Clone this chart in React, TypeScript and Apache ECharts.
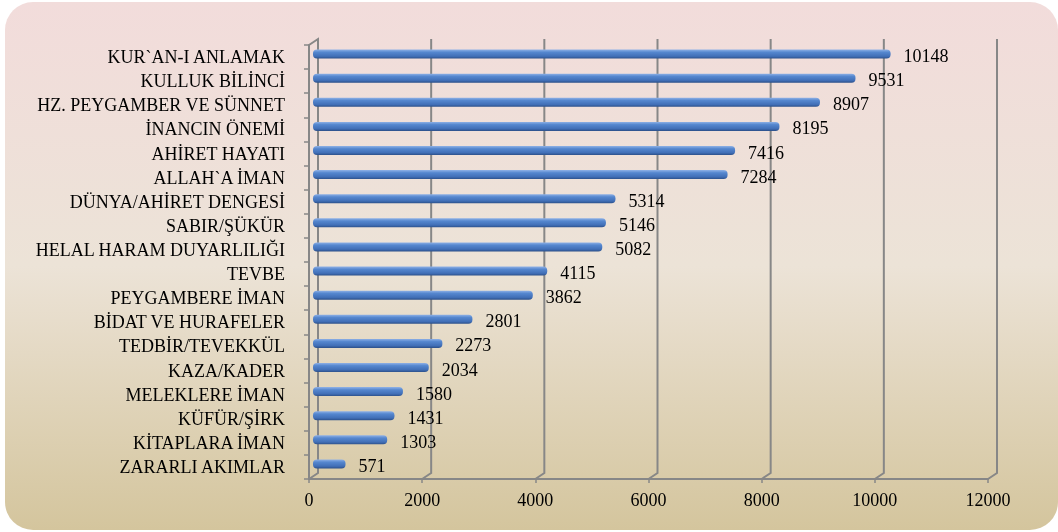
import React, { useEffect, useRef } from "react";
import * as echarts from "echarts";

const CATEGORIES = [
  "KUR`AN-I ANLAMAK",
  "KULLUK BİLİNCİ",
  "HZ. PEYGAMBER VE SÜNNET",
  "İNANCIN ÖNEMİ",
  "AHİRET HAYATI",
  "ALLAH`A İMAN",
  "DÜNYA/AHİRET DENGESİ",
  "SABIR/ŞÜKÜR",
  "HELAL HARAM DUYARLILIĞI",
  "TEVBE",
  "PEYGAMBERE İMAN",
  "BİDAT VE HURAFELER",
  "TEDBİR/TEVEKKÜL",
  "KAZA/KADER",
  "MELEKLERE İMAN",
  "KÜFÜR/ŞİRK",
  "KİTAPLARA İMAN",
  "ZARARLI AKIMLAR",
];

const VALUES = [
  10148, 9531, 8907, 8195, 7416, 7284, 5314, 5146, 5082, 4115, 3862, 2801,
  2273, 2034, 1580, 1431, 1303, 571,
];

const X_MIN = 0;
const X_MAX = 12000;
const X_INTERVAL = 2000;
const X_TICKS = [0, 2000, 4000, 6000, 8000, 10000, 12000];

const FONT = "'Liberation Serif', 'Times New Roman', serif";
const GRID_COLOR = "#878787";
const DX = 9;
const DY = 6;

export default function App() {
  const ref = useRef<HTMLDivElement>(null);

  useEffect(() => {
    if (!ref.current) return;
    const chart = echarts.init(ref.current, undefined, { renderer: "svg" });

    const bg = new echarts.graphic.LinearGradient(0, 0, 0, 1, [
      { offset: 0, color: "#f2dcdb" },
      { offset: 0.5, color: "#ece3d7" },
      { offset: 1, color: "#d4c59d" },
    ]);

    const barColor = new echarts.graphic.LinearGradient(0, 0, 0, 1, [
      { offset: 0, color: "#8fb1e6" },
      { offset: 0.3, color: "#5587cf" },
      { offset: 0.75, color: "#416fb7" },
      { offset: 1, color: "#2c508a" },
    ]);

    const option: any = {
      animation: false,
      graphic: [
        {
          type: "rect",
          z: -10,
          silent: true,
          shape: { x: 5, y: 2, width: 1053, height: 528, r: 28 },
          style: { fill: bg },
        },
      ],
      grid: [
        { left: 309, right: 70, top: 45, bottom: 53, containLabel: false },
        { left: 313, right: 62, top: 42, bottom: 56, containLabel: false },
      ],
      xAxis: [
        {
          type: "value",
          gridIndex: 0,
          min: X_MIN,
          max: X_MAX,
          interval: X_INTERVAL,
          axisLine: { show: true, lineStyle: { color: GRID_COLOR, width: 2 } },
          axisTick: { show: true, length: 4, lineStyle: { color: GRID_COLOR, width: 1.5 } },
          splitLine: { show: false },
          axisLabel: {
            fontFamily: FONT,
            fontSize: 18,
            color: "#000",
            margin: 12,
            formatter: (v: number) => String(v),
          },
        },
        {
          type: "value",
          gridIndex: 1,
          min: X_MIN,
          max: X_MAX,
          interval: X_INTERVAL,
          show: false,
        },
      ],
      yAxis: [
        {
          type: "category",
          gridIndex: 0,
          inverse: true,
          data: CATEGORIES,
          axisLine: { show: true, lineStyle: { color: GRID_COLOR, width: 2 } },
          axisTick: { show: true, length: 5, lineStyle: { color: GRID_COLOR, width: 1.5 } },
          axisLabel: { fontFamily: FONT, fontSize: 18, color: "#000", margin: 24 },
          splitLine: { show: false },
        },
        {
          type: "category",
          gridIndex: 1,
          inverse: true,
          data: CATEGORIES,
          show: false,
        },
      ],
      series: [
        {
          type: "custom",
          xAxisIndex: 0,
          yAxisIndex: 0,
          z: 1,
          silent: true,
          clip: false,
          data: X_TICKS.map((v) => [v, 0]),
          encode: { x: 0, y: 1 },
          renderItem: (params: any, api: any) => {
            const cs = params.coordSys;
            const v = api.value(0);
            const x = api.coord([v, 0])[0];
            const bottom = cs.y + cs.height;
            const top = cs.y;
            const pts: number[][] = [
              [x, bottom],
              [x + DX, bottom - DY],
              [x + DX, top - DY],
            ];
            if (v === 0) pts.push([x, top]);
            return {
              type: "polyline",
              shape: { points: pts },
              style: { stroke: GRID_COLOR, lineWidth: 2, fill: "none" },
            };
          },
        },
        {
          type: "bar",
          xAxisIndex: 1,
          yAxisIndex: 1,
          z: 3,
          barWidth: 9,
          data: VALUES,
          itemStyle: { color: barColor, borderRadius: 4 },
          label: {
            show: true,
            position: "right",
            distance: 13,
            offset: [0, 2],
            fontFamily: FONT,
            fontSize: 18,
            color: "#000",
          },
        },
      ],
    };

    chart.setOption(option);
    return () => chart.dispose();
  }, []);

  return (
    <div
      ref={ref}
      style={{ position: "fixed", left: 0, top: 0, width: 1058, height: 532 }}
    />
  );
}
